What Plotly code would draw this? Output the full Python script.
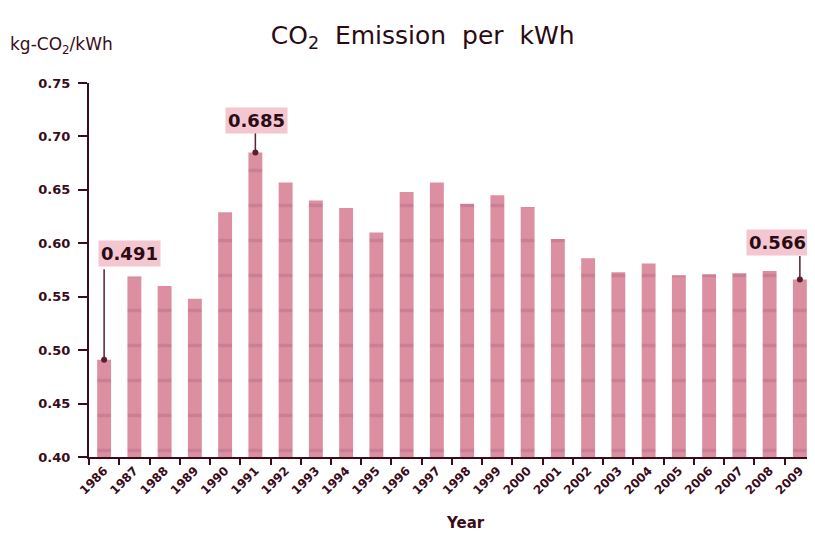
import plotly.graph_objects as go

years = [str(y) for y in range(1986, 2010)]
emission = [0.491, 0.569, 0.560, 0.548, 0.629, 0.685, 0.657, 0.640, 0.633, 0.610,
            0.648, 0.657, 0.637, 0.645, 0.634, 0.604, 0.586, 0.573, 0.581, 0.570,
            0.571, 0.572, 0.574, 0.566]
y_ticks = [0.40, 0.45, 0.50, 0.55, 0.60, 0.65, 0.70, 0.75]
highlight_years = ["1986", "1991", "2009"]
highlight_vals = [0.491, 0.685, 0.566]

dark = "#3a0c1a"
font_fam = "DejaVu Sans, Verdana, sans-serif"
x_range = [-0.5, 23.236]

fig = go.Figure()
fig.add_trace(go.Bar(
    x=list(range(len(years))), y=emission, width=0.46,
    marker=dict(color="#db8fa1", line=dict(width=0),
                pattern=dict(shape="-", fgcolor="#bb6f88", size=35, solidity=0.1)),
    hoverinfo="x+y",
))

# (arrow length in px, text x shift, text y shift)
call_style = {"1986": (92, 25, 106), "1991": (22, 1, 32), "2009": (25, -22, 37)}
for yr, v in zip(highlight_years, highlight_vals):
    idx = years.index(yr)
    alen, xs, ys = call_style[yr]
    fig.add_annotation(
        x=idx, y=v, xref="x", yref="y", text="",
        showarrow=True, ax=0, ay=-alen, arrowhead=6, arrowsize=1, arrowwidth=1.5,
        arrowcolor="#5a2030", standoff=0,
    )
    fig.add_annotation(
        x=idx, y=v, xref="x", yref="y", text=f"{v:.3f}",
        showarrow=False, xshift=xs, yshift=ys,
        font=dict(family=font_fam, size=18, color="#2a0c14", weight="bold"),
        bgcolor="#f3c6d0", borderpad=2,
    )

fig.add_annotation(
    x=-0.1128, y=1.1016, xref="paper", yref="paper", xanchor="left", yanchor="middle",
    text="kg-CO<sub>2</sub>/kWh", showarrow=False,
    font=dict(family=font_fam, size=17, color=dark),
)
fig.add_annotation(
    x=0.525, y=-0.176, xref="paper", yref="paper", xanchor="center", yanchor="middle",
    text="Year", showarrow=False,
    font=dict(family=font_fam, size=15, color=dark, weight="bold"),
)

fig.update_layout(
    width=799, height=525,
    margin=dict(l=81, r=0, t=75, b=76),
    paper_bgcolor="white", plot_bgcolor="white",
    showlegend=False,
    title=dict(text="CO<sub>2</sub>  Emission  per  kWh", x=0.519, xanchor="center",
               y=1 - 27 / 525, yanchor="middle", yref="container",
               font=dict(family=font_fam, size=25, color="#2a0a14")),
    xaxis=dict(range=x_range, tickangle=-45,
               tickvals=list(range(len(years))), ticktext=years,
               showline=True, linecolor=dark, linewidth=2,
               ticks="", showgrid=False, zeroline=False,
               tickfont=dict(family=font_fam, size=12, color=dark, weight="bold")),
    yaxis=dict(range=[0.40, 0.75], tickvals=y_ticks,
               ticktext=[f"{t:.2f}" for t in y_ticks],
               showline=True, linecolor=dark, linewidth=2,
               ticks="outside", ticklen=9, tickcolor=dark, tickwidth=1.5,
               ticklabelstandoff=5,
               tickfont=dict(family=font_fam, size=13, color=dark, weight="bold"),
               showgrid=False, zeroline=False),
    xaxis2=dict(overlaying="x", range=x_range, tickvals=[i - 0.5 for i in range(len(years) + 1)],
                ticks="outside", ticklen=7, tickcolor=dark, tickwidth=2, showticklabels=False,
                side="bottom", showgrid=False, zeroline=False, anchor="y"),
)
# invisible trace to activate the boundary-tick axis
fig.add_trace(go.Scatter(x=[0], y=[0.40], xaxis="x2", mode="markers",
                         marker=dict(opacity=0), hoverinfo="skip"))

fig.write_html("out.html")
